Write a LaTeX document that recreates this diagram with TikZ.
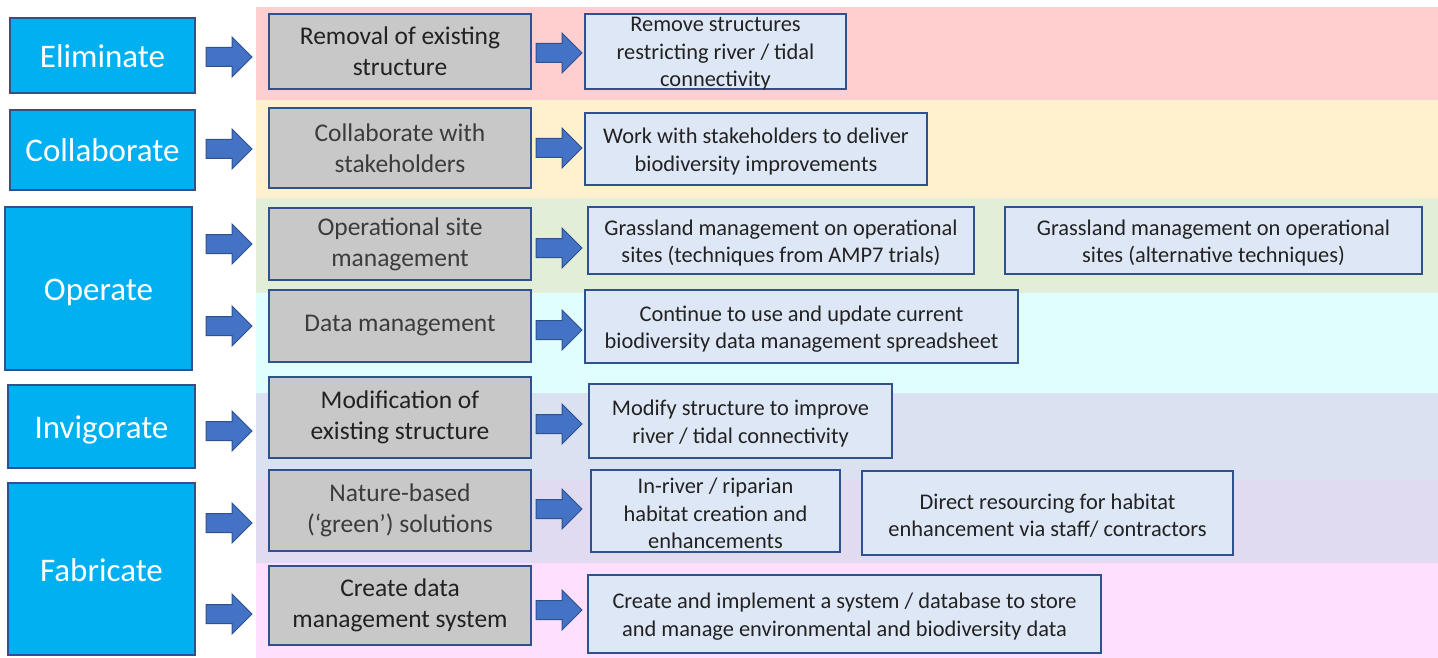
\documentclass[tikz,border=0pt]{standalone}
\usepackage{fontspec}
\setmainfont{Carlito}
\definecolor{bord}{HTML}{2F528F}
\definecolor{lblue}{HTML}{00B0F0}
\definecolor{midgray}{HTML}{C8C8C8}
\definecolor{rblue}{HTML}{DEE7F5}
\definecolor{arrfill}{HTML}{4472C4}
\definecolor{bandA}{HTML}{FFCFCF}
\definecolor{bandB}{HTML}{FFF1CD}
\definecolor{bandC}{HTML}{E3EED9}
\definecolor{bandD}{HTML}{E0FEFE}
\definecolor{bandE}{HTML}{DAE2F2}
\definecolor{bandF}{HTML}{E1DBF2}
\definecolor{bandG}{HTML}{FFDFFE}
\definecolor{darktext}{HTML}{222222}
\definecolor{graytext}{HTML}{3C3C3C}
\tikzset{
  leftbox/.style={draw=bord, line width=2pt, fill=lblue, text=white, inner sep=0pt,
    font=\fontsize{33}{40}\selectfont, align=center, text height=30pt, text depth=6pt},
  midbox/.style={draw=bord, line width=2pt, fill=midgray, text=graytext, inner sep=0pt,
    font=\fontsize{25.5}{31}\selectfont, align=center},
  midboxdark/.style={midbox, text=darktext},
  rightbox/.style={draw=bord, line width=2pt, fill=rblue, inner sep=0pt},
  righttext/.style={text=darktext, inner sep=0pt,
    font=\fontsize{22.4}{27.5}\selectfont, align=center},
  blockarrow/.style={draw=bord, line width=1pt, fill=arrfill},
  pics/barrow/.style={code={
    \draw[blockarrow] (-23,-9.5) -- (3,-9.5) -- (3,-20) -- (23,0) -- (3,20) -- (3,9.5) -- (-23,9.5) -- cycle;}}
}
\newcommand{\rbox}[6]{%
  \node[rightbox, minimum width=#4pt, minimum height=#5pt] (#1) at (#2,#3) {};
  \node[righttext] (#1t) at ([yshift=-2.5pt]#1.center) {#6};}
\begin{document}
\begin{tikzpicture}[x=1pt,y=-1pt]
\useasboundingbox (0,0) rectangle (1438,658);
\fill[white] (0,0) rectangle (1438,658);
% bands
\fill[bandA] (256,7) rectangle (1438,100);
\fill[bandB] (256,100) rectangle (1438,198);
\fill[bandC] (256,198) rectangle (1438,293);
\fill[bandD] (256,293) rectangle (1438,393);
\fill[bandE] (256,393) rectangle (1438,480);
\fill[bandF] (256,480) rectangle (1438,563);
\fill[bandG] (256,563) rectangle (1438,658);
% left boxes
\node[leftbox, minimum width=185pt, minimum height=75pt] (L1) at (102.5,55.5) {Eliminate};
\node[leftbox, minimum width=185pt, minimum height=80pt] (L2) at (102.5,150) {Collaborate};
\node[leftbox, minimum width=187pt, minimum height=163pt] (L3) at (98.5,288.5) {Operate};
\node[leftbox, minimum width=187pt, minimum height=83pt] (L4) at (101.5,426.5) {Invigorate};
\node[leftbox, minimum width=187pt, minimum height=172pt] (L5) at (101.5,569) {Fabricate};
% middle boxes
\node[midboxdark, minimum width=262pt, minimum height=75pt] (M1) at (400,51.5) {Removal of existing\\structure};
\node[midbox, minimum width=262pt, minimum height=80pt] (M2) at (400,148) {Collaborate with\\stakeholders};
\node[midbox, minimum width=262pt, minimum height=72pt] (M3) at (400,244) {Operational site\\management};
\node[midbox, minimum width=262pt, minimum height=72pt] (M4) at (400,326) {Data management};
\node[midboxdark, minimum width=262pt, minimum height=81pt] (M5) at (400,417.5) {Modification of\\existing structure};
\node[midbox, minimum width=262pt, minimum height=81pt] (M6) at (400,510.5) {Nature-based\\(‘green’) solutions};
\node[midboxdark, minimum width=262pt, minimum height=79pt] (M7) at (400,605.5) {Create data\\management system};
% right boxes
\rbox{R1}{715.5}{51.5}{261}{75}{Remove structures\\restricting river / tidal\\connectivity}
\rbox{R2}{756}{149}{342}{72}{Work with stakeholders to deliver\\biodiversity improvements}
\rbox{R3}{781}{240.5}{386}{67}{Grassland management on operational\\sites (techniques from AMP7 trials)}
\rbox{R3b}{1213.5}{240.5}{417}{67}{Grassland management on operational\\sites (alternative techniques)}
\rbox{R4}{801.5}{326.5}{433}{73}{Continue to use and update current\\biodiversity data management spreadsheet}
\rbox{R5}{740.5}{421}{303}{74}{Modify structure to improve\\river / tidal connectivity}
\rbox{R6}{715.5}{511}{249}{82}{In-river / riparian\\habitat creation and\\enhancements}
\rbox{R6b}{1047.5}{513}{371}{84}{Direct resourcing for habitat\\enhancement via staff/ contractors}
\rbox{R7}{844.5}{614}{513}{78}{Create and implement a system / database to store\\and manage environmental and biodiversity data}
% left arrows
\coordinate (a1) at ([xshift=-39]M1.west |- 0,57);
\coordinate (a2) at ([xshift=-39]M2.west |- 0,149);
\coordinate (a3) at ([xshift=-39]M3.west |- 0,244);
\coordinate (a4) at ([xshift=-39]M4.west |- 0,326);
\coordinate (a5) at ([xshift=-39]M5.west |- 0,431);
\coordinate (a6) at ([xshift=-39]M6.west |- 0,523);
\coordinate (a7) at ([xshift=-39]M7.west |- 0,614);
\foreach \c in {a1,a2,a3,a4,a5,a6,a7} {\pic at (\c) {barrow};}
% middle arrows
\coordinate (b1) at ([xshift=27]M1.east |- 0,53);
\coordinate (b2) at ([xshift=27]M2.east |- 0,148);
\coordinate (b3) at ([xshift=27]M3.east |- 0,248);
\coordinate (b4) at ([xshift=27]M4.east |- 0,330);
\coordinate (b5) at ([xshift=27]M5.east |- 0,424);
\coordinate (b6) at ([xshift=27]M6.east |- 0,509);
\coordinate (b7) at ([xshift=27]M7.east |- 0,610);
\foreach \c in {b1,b2,b3,b4,b5,b6,b7} {\pic at (\c) {barrow};}
\end{tikzpicture}
\end{document}
